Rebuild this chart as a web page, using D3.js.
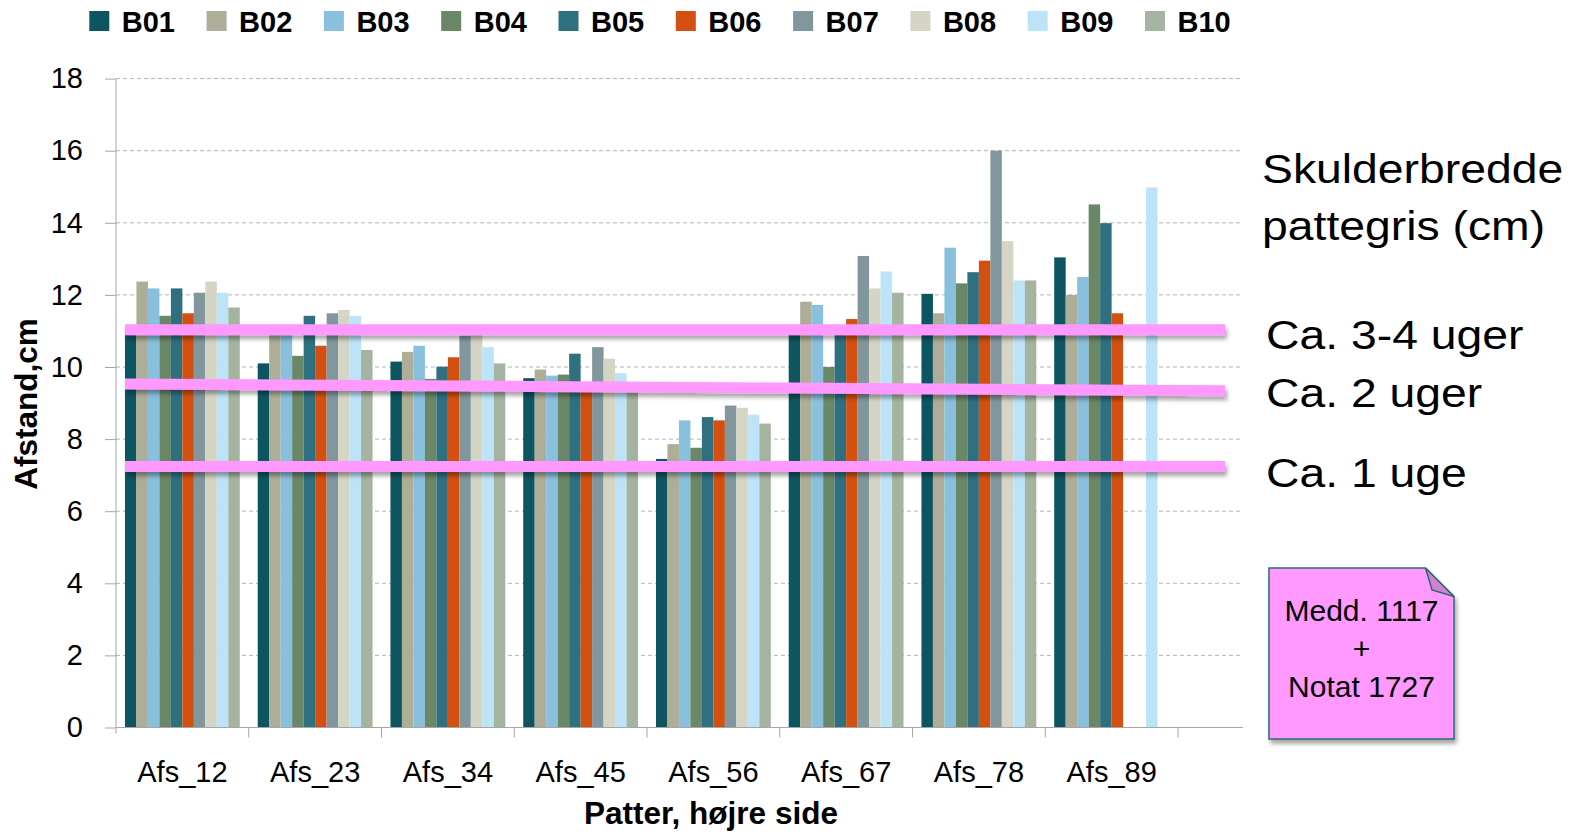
<!DOCTYPE html>
<meta charset="utf-8">
<title>Afstand mellem patter</title>
<style>
  body { margin: 0; background: #fff; }
  text { font-family: "Liberation Sans", Arial, sans-serif; fill: #000; }
  .grid line { stroke: #b4b4b4; stroke-dasharray: 4,3; }
  .axis path, .axis line { stroke: #a6a6a6; }
  .tick text { font-size: 29px; }
  .title { font-size: 31.5px; font-weight: bold; }
  .legend text { font-size: 29px; font-weight: bold; }
  .note text { font-size: 30px; }
  .side text { font-size: 41px; }
</style>
<body>
<script src="https://cdn.jsdelivr.net/npm/d3@7/dist/d3.min.js"></script>
<script>
// data
var categories = ["Afs_12", "Afs_23", "Afs_34", "Afs_45", "Afs_56", "Afs_67", "Afs_78", "Afs_89"];
var seriesNames = ["B01", "B02", "B03", "B04", "B05", "B06", "B07", "B08", "B09", "B10"];
var colors = ["#0d5661", "#adad98", "#88c0de", "#6a8767", "#2e7080", "#d35010", "#82979d", "#d4d5c5", "#bce3f8", "#a5b4a0"];

var b01 = [11.05, 10.10, 10.15, 9.69, 7.45, 11.00, 12.03, 13.04];
var b02 = [12.37, 10.95, 10.42, 9.93, 7.86, 11.81, 11.49, 12.00];
var b03 = [12.18, 10.90, 10.59, 9.76, 8.52, 11.72, 13.31, 12.50];
var b04 = [11.42, 10.31, 9.67, 9.79, 7.76, 10.00, 12.32, 14.51];
var b05 = [12.18, 11.42, 10.01, 10.37, 8.61, 10.95, 12.63, 13.99];
var b06 = [11.49, 10.59, 10.27, 9.50, 8.52, 11.33, 12.95, 11.49];
var b07 = [12.06, 11.49, 10.87, 10.55, 8.93, 13.08, 16.00, null];
var b08 = [12.37, 11.58, 10.89, 10.23, 8.87, 12.18, 13.49, null];
var b09 = [12.06, 11.42, 10.55, 9.83, 8.68, 12.65, 12.40, 14.98];
var b10 = [11.65, 10.47, 10.10, 9.45, 8.43, 12.06, 12.40, null];
var seriesValues = [b01, b02, b03, b04, b05, b06, b07, b08, b09, b10];

var yTicks = [0, 2, 4, 6, 8, 10, 12, 14, 16, 18];

// pink guide lines: level at left end and right end
var guideStart = [11.03, 9.53, 7.24];
var guideEnd = [11.03, 9.34, 7.24];
var guideLabels = ["Ca. 3-4 uger", "Ca. 2 uger", "Ca. 1 uge"];
var sideTitle = ["Skulderbredde", "pattegris (cm)"];
var noteLines = ["Medd. 1117", "+", "Notat 1727"];

var width = 1581, height = 837;
var plotLeft = 116, plotRight = 1178, gridRight = 1243, plotTop = 78.6, plotBottom = 727.5;

var svg = d3.select("body").append("svg")
    .attr("width", width)
    .attr("height", height);

// shadow in user space so flat horizontal lines still get it
var defs = svg.append("defs");
defs.append("filter").attr("id", "shadow")
    .attr("filterUnits", "userSpaceOnUse")
    .attr("x", 0).attr("y", 0).attr("width", width).attr("height", height)
  .append("feDropShadow")
    .attr("dx", 2).attr("dy", 4).attr("stdDeviation", 2)
    .attr("flood-color", "#000").attr("flood-opacity", 0.35);

var x0 = d3.scaleBand()
    .domain(categories)
    .range([plotLeft, plotRight])
    .paddingInner(0.135)
    .paddingOuter(0.0675);

var x1 = d3.scaleBand()
    .domain(seriesNames)
    .range([0, x0.bandwidth()]);

var y = d3.scaleLinear()
    .domain([0, 18])
    .range([plotBottom, plotTop]);

// gridlines
svg.append("g").attr("class", "grid")
  .selectAll("line")
  .data(yTicks.filter(function(d) { return d > 0; }))
  .enter().append("line")
    .attr("x1", plotLeft).attr("x2", gridRight)
    .attr("y1", function(d) { return y(d); })
    .attr("y2", function(d) { return y(d); });

// bars
var groups = svg.append("g")
  .selectAll("g")
  .data(categories)
  .enter().append("g")
    .attr("transform", function(d) { return "translate(" + x0(d) + ",0)"; });

groups.selectAll("rect")
  .data(function(d, i) {
    return seriesNames.map(function(s, j) { return {key: s, color: colors[j], value: seriesValues[j][i]}; })
      .filter(function(e) { return e.value != null; });
  })
  .enter().append("rect")
    .attr("x", function(d) { return x1(d.key); })
    .attr("width", x1.bandwidth())
    .attr("y", function(d) { return y(d.value); })
    .attr("height", function(d) { return y(0) - y(d.value); })
    .attr("fill", function(d) { return d.color; });

// y axis
var yAxis = svg.append("g")
    .attr("class", "axis")
    .attr("transform", "translate(" + plotLeft + ",0)")
    .call(d3.axisLeft(y).tickValues(yTicks).tickSize(11).tickPadding(22));
yAxis.select(".domain").remove();
yAxis.append("line")
    .attr("x1", 0).attr("x2", 0)
    .attr("y1", plotTop).attr("y2", plotBottom + 6);

// x axis
var xAxis = svg.append("g")
    .attr("class", "axis")
    .attr("transform", "translate(0," + plotBottom + ")")
    .call(d3.axisBottom(x0).tickSize(0));
xAxis.select(".domain").remove();
xAxis.selectAll(".tick text").attr("y", 54).attr("dy", 0);
xAxis.append("line")
    .attr("x1", plotLeft).attr("x2", gridRight)
    .attr("y1", 0).attr("y2", 0);
var gap = (x0.step() - x0.bandwidth()) / 2;
var bounds = categories.map(function(c) { return x0(c) - gap; });
bounds.push(x0(categories[categories.length - 1]) + x0.bandwidth() + gap);
xAxis.selectAll(".bound")
  .data(bounds.slice(1))
  .enter().append("line")
    .attr("class", "bound")
    .attr("x1", function(d) { return d; }).attr("x2", function(d) { return d; })
    .attr("y1", 0).attr("y2", 10);

// axis titles
svg.append("text")
    .attr("class", "title")
    .attr("text-anchor", "middle")
    .attr("transform", "translate(37,404) rotate(-90)")
    .text("Afstand,cm");

svg.append("text")
    .attr("class", "title")
    .attr("text-anchor", "middle")
    .attr("x", 711).attr("y", 824)
    .text("Patter, højre side");

// legend
var legend = svg.append("g").attr("class", "legend")
  .selectAll("g")
  .data(seriesNames)
  .enter().append("g")
    .attr("transform", function(d, i) { return "translate(" + (89.3 + i * 117.3) + ",0)"; });
legend.append("rect")
    .attr("x", 0).attr("y", 11)
    .attr("width", 20).attr("height", 20)
    .attr("fill", function(d, i) { return colors[i]; });
legend.append("text")
    .attr("x", 32.5).attr("y", 32)
    .text(function(d) { return d; });

// pink guide lines
var guideX0 = 125, guideX1 = 1225;
svg.append("g")
  .selectAll("line")
  .data(guideStart)
  .enter().append("line")
    .attr("x1", guideX0).attr("x2", guideX1)
    .attr("y1", function(d) { return y(d); })
    .attr("y2", function(d, i) { return y(guideEnd[i]); })
    .attr("stroke", "#ff99ff")
    .attr("stroke-width", 11)
    .attr("filter", "url(#shadow)");

// side texts
var side = svg.append("g").attr("class", "side");
side.selectAll(".head")
  .data(sideTitle)
  .enter().append("text")
    .attr("class", "head")
    .attr("transform", function(d, i) { return "translate(1262," + (182.7 + i * 57.3) + ") scale(1.13,1)"; })
    .text(function(d) { return d; });
var labelY = [349.3, 406.7, 486.7];
side.selectAll(".lab")
  .data(guideLabels)
  .enter().append("text")
    .attr("class", "lab")
    .attr("transform", function(d, i) { return "translate(1266," + labelY[i] + ") scale(1.13,1)"; })
    .text(function(d) { return d; });

// note box with folded corner
var note = svg.append("g").attr("class", "note");
var nx0 = 1269, nx1 = 1454, ny0 = 568, ny1 = 739, fold = 28.5;
note.append("path")
    .attr("d", "M" + nx0 + "," + ny0 + "H" + (nx1 - fold) + "L" + nx1 + "," + (ny0 + fold) +
      "V" + ny1 + "H" + nx0 + "Z")
    .attr("fill", "#ff99ff")
    .attr("stroke", "#2a6b73")
    .attr("stroke-width", 1.5)
    .attr("filter", "url(#shadow)");
note.append("path")
    .attr("d", "M" + (nx1 - fold) + "," + ny0 + "L" + nx1 + "," + (ny0 + fold) +
      "L" + (nx1 - 22) + "," + (ny0 + 22) + "Z")
    .attr("fill", "#d17fd1")
    .attr("stroke", "#2a6b73")
    .attr("stroke-width", 1.5);
note.selectAll("text")
  .data(noteLines)
  .enter().append("text")
    .attr("text-anchor", "middle")
    .attr("x", (nx0 + nx1) / 2)
    .attr("y", function(d, i) { return 621 + i * 38; })
    .text(function(d) { return d; });
</script>
</body>
